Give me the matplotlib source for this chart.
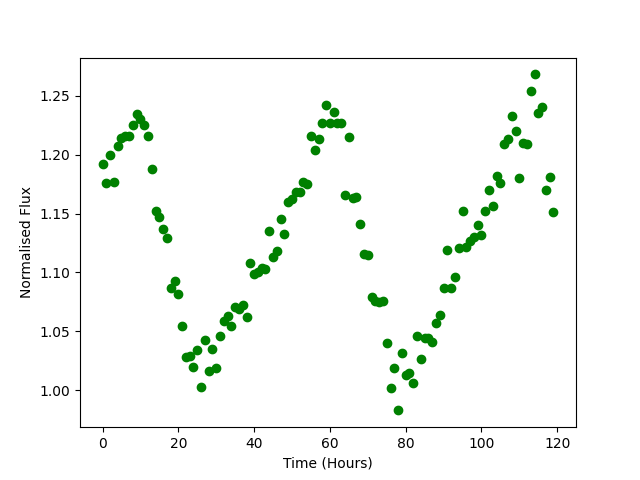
import numpy as np
import matplotlib
matplotlib.use('Agg')
import matplotlib.pyplot as plt

# Time in hours, one reading per hour
time_hours = np.arange(120)

# Normalised flux
flux = [
    1.192, 1.176, 1.200, 1.177, 1.207, 1.214, 1.216, 1.216, 1.225, 1.234,
    1.230, 1.225, 1.216, 1.188, 1.152, 1.147, 1.137, 1.129, 1.087, 1.093,
    1.082, 1.055, 1.028, 1.029, 1.020, 1.034, 1.003, 1.043, 1.016, 1.035,
    1.019, 1.046, 1.059, 1.063, 1.055, 1.071, 1.069, 1.072, 1.062, 1.108,
    1.099, 1.100, 1.104, 1.103, 1.135, 1.113, 1.118, 1.145, 1.133, 1.160,
    1.162, 1.168, 1.168, 1.177, 1.175, 1.216, 1.204, 1.213, 1.227, 1.242,
    1.227, 1.236, 1.227, 1.227, 1.166, 1.215, 1.163, 1.164, 1.141, 1.116,
    1.115, 1.079, 1.076, 1.075, 1.076, 1.040, 1.002, 1.019, 0.983, 1.032,
    1.013, 1.015, 1.006, 1.046, 1.027, 1.044, 1.044, 1.041, 1.057, 1.064,
    1.087, 1.119, 1.087, 1.096, 1.121, 1.152, 1.122, 1.127, 1.130, 1.140,
    1.132, 1.152, 1.170, 1.156, 1.182, 1.176, 1.209, 1.213, 1.233, 1.220,
    1.180, 1.210, 1.209, 1.254, 1.268, 1.235, 1.240, 1.170, 1.181, 1.151,
]

plt.figure(figsize=(6.4, 4.8), dpi=100)
plt.plot(time_hours, flux, 'o', color='green')
plt.xlabel('Time (Hours)')
plt.ylabel('Normalised Flux')
plt.savefig('out.png')
